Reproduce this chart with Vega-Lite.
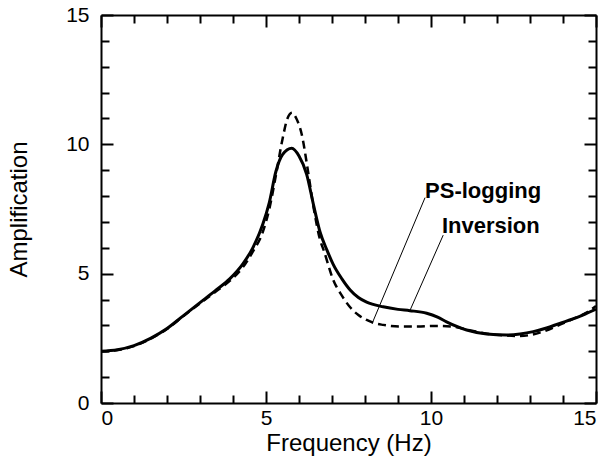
{
  "$schema": "https://vega.github.io/schema/vega-lite/v6.json",
  "width": 495,
  "height": 388,
  "autosize": "none",
  "padding": {"left": 101, "top": 15, "right": 13, "bottom": 55},
  "config": {
    "font": "Liberation Sans",
    "view": {"stroke": null},
    "axis": {
      "grid": false,
      "domainColor": "black",
      "domainWidth": 2,
      "tickColor": "black",
      "tickWidth": 2,
      "labelColor": "black",
      "labelFontSize": 21,
      "titleColor": "black",
      "titleFontSize": 24,
      "titleFontWeight": "normal"
    }
  },
  "layer": [
    {
      "encoding": {
        "x": {"field": "x", "type": "quantitative", "scale": {"domain": [0, 15], "nice": false},
              "axis": {"orient": "bottom", "title": "Frequency (Hz)", "ticks": false, "labelPadding": 4, "titlePadding": 3,
                       "values": [0, 5, 10, 15]}},
        "y": {"field": "y", "type": "quantitative", "scale": {"domain": [0, 15], "nice": false},
              "axis": {"orient": "left", "title": "Amplification", "ticks": false, "labelPadding": 12, "titlePadding": 34,
                       "values": [0, 5, 10, 15]}}
      },
      "layer": [
        {
          "data": {"values": [
            {"x": 0, "y": 2.0}, {"x": 0.5, "y": 2.06}, {"x": 1.0, "y": 2.22}, {"x": 1.5, "y": 2.5},
            {"x": 2.0, "y": 2.88}, {"x": 2.5, "y": 3.38}, {"x": 3.0, "y": 3.88}, {"x": 3.5, "y": 4.38},
            {"x": 3.9, "y": 4.8}, {"x": 4.3, "y": 5.38}, {"x": 4.6, "y": 6.0}, {"x": 4.9, "y": 6.9},
            {"x": 5.1, "y": 7.75}, {"x": 5.3, "y": 8.95}, {"x": 5.5, "y": 9.6}, {"x": 5.78, "y": 9.85},
            {"x": 6.0, "y": 9.55}, {"x": 6.23, "y": 8.85}, {"x": 6.45, "y": 7.6}, {"x": 6.64, "y": 6.6},
            {"x": 6.85, "y": 5.9}, {"x": 7.04, "y": 5.35}, {"x": 7.3, "y": 4.8}, {"x": 7.55, "y": 4.37},
            {"x": 7.8, "y": 4.08}, {"x": 8.05, "y": 3.9}, {"x": 8.55, "y": 3.72}, {"x": 9.0, "y": 3.62},
            {"x": 9.36, "y": 3.57}, {"x": 9.87, "y": 3.47}, {"x": 10.2, "y": 3.32}, {"x": 10.47, "y": 3.14},
            {"x": 10.8, "y": 2.95}, {"x": 11.08, "y": 2.82}, {"x": 11.69, "y": 2.67}, {"x": 12.29, "y": 2.63},
            {"x": 12.7, "y": 2.67}, {"x": 13.1, "y": 2.76}, {"x": 13.5, "y": 2.9}, {"x": 13.9, "y": 3.08},
            {"x": 14.3, "y": 3.25}, {"x": 14.6, "y": 3.4}, {"x": 15.0, "y": 3.63}
          ]},
          "mark": {"type": "line", "color": "black", "strokeWidth": 3, "interpolate": "monotone", "clip": true}
        },
        {
          "data": {"values": [
            {"x": 0, "y": 2.0}, {"x": 0.5, "y": 2.05}, {"x": 1.0, "y": 2.2}, {"x": 1.5, "y": 2.48},
            {"x": 2.0, "y": 2.86}, {"x": 2.5, "y": 3.36}, {"x": 3.0, "y": 3.85}, {"x": 3.5, "y": 4.33},
            {"x": 3.9, "y": 4.72}, {"x": 4.3, "y": 5.25}, {"x": 4.6, "y": 5.85}, {"x": 4.9, "y": 6.6},
            {"x": 5.1, "y": 7.5}, {"x": 5.3, "y": 8.8}, {"x": 5.5, "y": 10.2},
            {"x": 5.65, "y": 11.0}, {"x": 5.79, "y": 11.22}, {"x": 5.92, "y": 11.0}, {"x": 6.08, "y": 10.4},
            {"x": 6.28, "y": 8.9}, {"x": 6.45, "y": 7.5}, {"x": 6.64, "y": 6.3}, {"x": 6.75, "y": 5.9},
            {"x": 7.04, "y": 4.75}, {"x": 7.3, "y": 4.15}, {"x": 7.55, "y": 3.7}, {"x": 7.8, "y": 3.4},
            {"x": 8.05, "y": 3.21}, {"x": 8.3, "y": 3.08}, {"x": 8.55, "y": 3.02}, {"x": 9.06, "y": 2.96},
            {"x": 9.6, "y": 2.96}, {"x": 10.07, "y": 2.98}, {"x": 10.68, "y": 2.95}, {"x": 11.28, "y": 2.78},
            {"x": 11.7, "y": 2.68}, {"x": 12.09, "y": 2.63}, {"x": 12.7, "y": 2.59}, {"x": 13.4, "y": 2.76},
            {"x": 14.1, "y": 3.14}, {"x": 14.7, "y": 3.49}, {"x": 15.0, "y": 3.75}
          ]},
          "mark": {"type": "line", "color": "black", "strokeWidth": 2.5, "strokeDash": [8, 5], "interpolate": "monotone", "clip": true}
        },
        {
          "data": {"values": [
            {"x": 9.82, "y": 7.94, "x2": 8.23, "y2": 3.12},
            {"x": 10.37, "y": 6.49, "x2": 9.36, "y2": 3.57}
          ]},
          "mark": {"type": "rule", "color": "black", "strokeWidth": 1},
          "encoding": {
            "x2": {"field": "x2"},
            "y2": {"field": "y2"}
          }
        },
        {
          "data": {"values": [
            {"x": 9.82, "y": 7.92, "label": "PS-logging"},
            {"x": 10.33, "y": 6.57, "label": "Inversion"}
          ]},
          "mark": {"type": "text", "align": "left", "baseline": "alphabetic", "fontSize": 22, "fontWeight": "bold", "color": "black"},
          "encoding": {
            "text": {"field": "label"}
          }
        }
      ]
    },
    {
      "data": {"values": [{"x": 0, "y": 0}, {"x": 15, "y": 15}]},
      "mark": {"type": "point", "opacity": 0},
      "encoding": {
        "x": {"field": "x", "type": "quantitative", "scale": {"domain": [0, 15], "nice": false},
              "axis": {"orient": "top", "labels": false, "title": null, "domain": true, "ticks": false,
                       "values": [0, 5, 10, 15]}},
        "y": {"field": "y", "type": "quantitative", "scale": {"domain": [0, 15], "nice": false},
              "axis": {"orient": "right", "labels": false, "title": null, "domain": true, "ticks": false,
                       "values": [0, 5, 10, 15]}}
      }
    },
    {
      "data": {"values": [{"x": 0, "y": 0}, {"x": 15, "y": 15}]},
      "mark": {"type": "point", "opacity": 0},
      "encoding": {
        "x": {"field": "x", "type": "quantitative", "scale": {"domain": [0, 15], "nice": false},
              "axis": {"orient": "top", "labels": false, "title": null, "domain": false, "tickSize": 12, "offset": -12,
                       "values": [0, 5, 10, 15]}},
        "y": {"field": "y", "type": "quantitative", "scale": {"domain": [0, 15], "nice": false},
              "axis": {"orient": "right", "labels": false, "title": null, "domain": false, "tickSize": 12, "offset": -12,
                       "values": [0, 5, 10, 15]}}
      }
    },
    {
      "data": {"values": [{"x": 0, "y": 0}, {"x": 15, "y": 15}]},
      "mark": {"type": "point", "opacity": 0},
      "encoding": {
        "x": {"field": "x", "type": "quantitative", "scale": {"domain": [0, 15], "nice": false},
              "axis": {"orient": "bottom", "labels": false, "title": null, "domain": false, "tickSize": 12, "offset": -12,
                       "values": [0, 5, 10, 15]}},
        "y": {"field": "y", "type": "quantitative", "scale": {"domain": [0, 15], "nice": false},
              "axis": {"orient": "left", "labels": false, "title": null, "domain": false, "tickSize": 12, "offset": -12,
                       "values": [0, 5, 10, 15]}}
      }
    },
    {
      "data": {"values": [{"x": 0, "y": 0}, {"x": 15, "y": 15}]},
      "mark": {"type": "point", "opacity": 0},
      "encoding": {
        "x": {"field": "x", "type": "quantitative", "scale": {"domain": [0, 15], "nice": false},
              "axis": {"orient": "top", "labels": false, "title": null, "domain": false, "tickSize": 8, "offset": -8,
                       "values": [1,2,3,4,6,7,8,9,11,12,13,14]}},
        "y": {"field": "y", "type": "quantitative", "scale": {"domain": [0, 15], "nice": false},
              "axis": {"orient": "right", "labels": false, "title": null, "domain": false, "tickSize": 8, "offset": -8,
                       "values": [1,2,3,4,6,7,8,9,11,12,13,14]}}
      }
    },
    {
      "data": {"values": [{"x": 0, "y": 0}, {"x": 15, "y": 15}]},
      "mark": {"type": "point", "opacity": 0},
      "encoding": {
        "x": {"field": "x", "type": "quantitative", "scale": {"domain": [0, 15], "nice": false},
              "axis": {"orient": "bottom", "labels": false, "title": null, "domain": false, "tickSize": 8, "offset": -8,
                       "values": [1,2,3,4,6,7,8,9,11,12,13,14]}},
        "y": {"field": "y", "type": "quantitative", "scale": {"domain": [0, 15], "nice": false},
              "axis": {"orient": "left", "labels": false, "title": null, "domain": false, "tickSize": 8, "offset": -8,
                       "values": [1,2,3,4,6,7,8,9,11,12,13,14]}}
      }
    }
  ],
  "resolve": {"axis": {"x": "independent", "y": "independent"}}
}
